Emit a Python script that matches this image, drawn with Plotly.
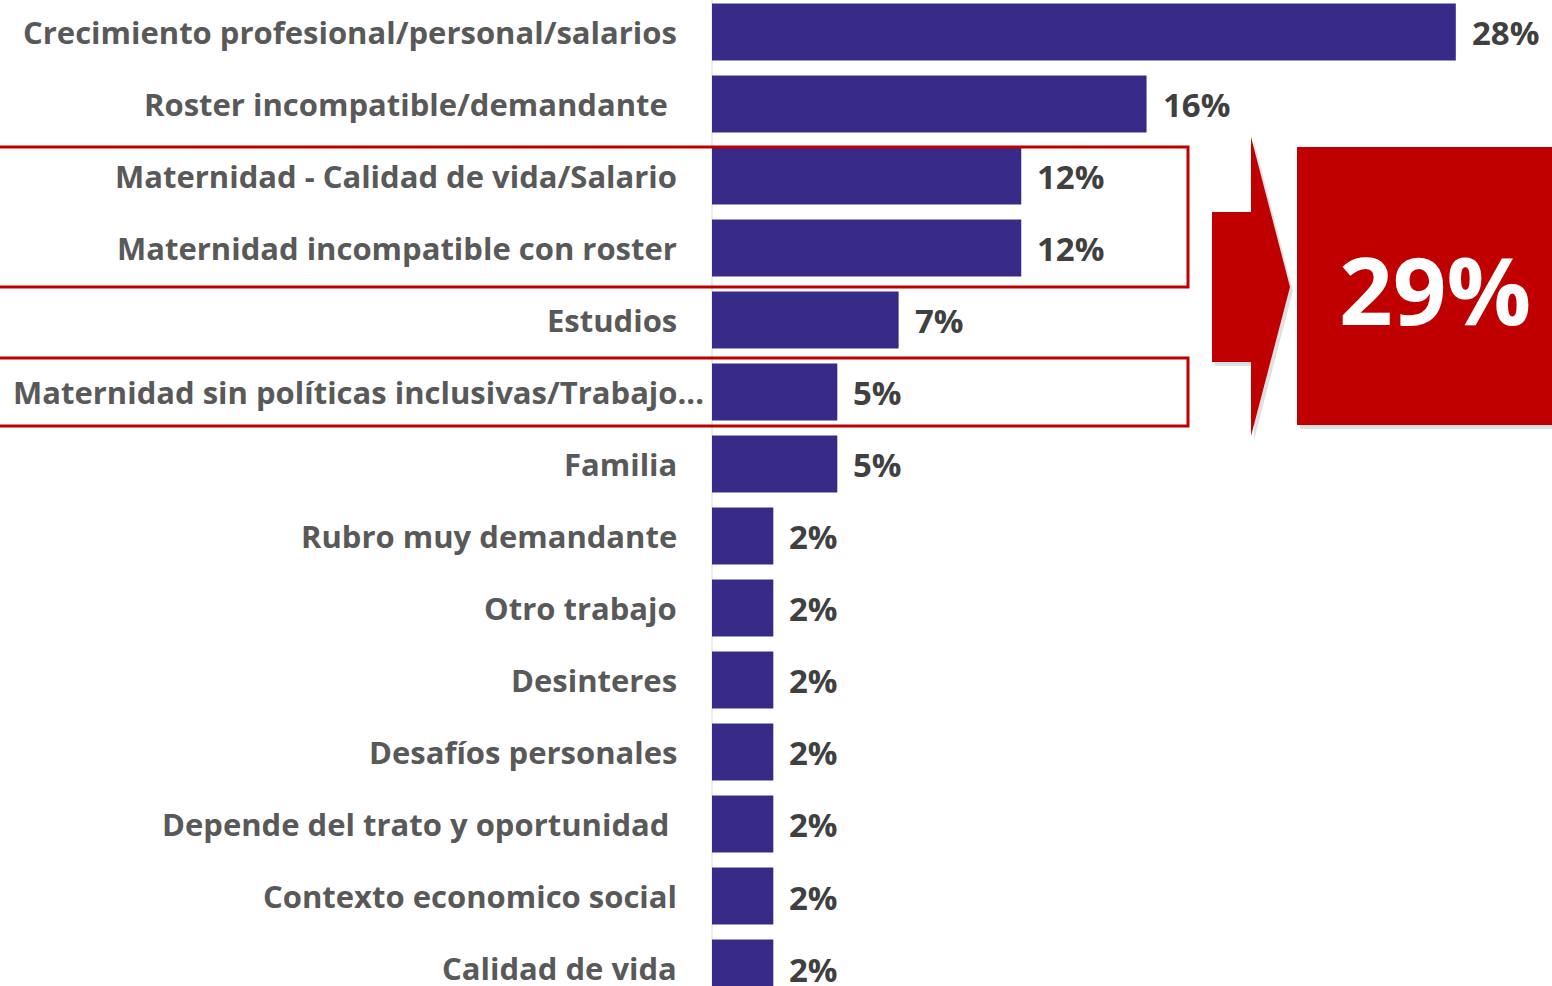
import plotly.graph_objects as go

categories = [
    "Crecimiento profesional/personal/salarios",
    "Roster incompatible/demandante",
    "Maternidad - Calidad de vida/Salario",
    "Maternidad incompatible con roster",
    "Estudios",
    "Maternidad sin políticas inclusivas/Trabajo...",
    "Familia",
    "Rubro muy demandante",
    "Otro trabajo",
    "Desinteres",
    "Desafíos personales",
    "Depende del trato y oportunidad",
    "Contexto economico social",
    "Calidad de vida",
]
values = [27.9, 16.3, 11.6, 11.6, 7.0, 4.7, 4.7, 2.3, 2.3, 2.3, 2.3, 2.3, 2.3, 2.3]
value_labels = ["28%", "16%", "12%", "12%", "7%", "5%", "5%", "2%", "2%", "2%", "2%", "2%", "2%", "2%"]
highlight_total = "29%"

W, H = 1552, 986
L = 712
PW = W - L
BAR = "#372A88"
RED = "#C00000"
TXT = "#595959"
FONT = "Open Sans"

def px(x):
    return (x - L) / PW

def py(y):
    return 1 - y / H

fig = go.Figure(go.Bar(
    x=values, y=list(range(len(categories))), orientation="h",
    marker=dict(color=BAR, line=dict(width=0)),
    width=0.79, showlegend=False, hoverinfo="skip",
))

ann = []
for i, (v, t) in enumerate(zip(values, value_labels)):
    ann.append(dict(x=v, y=i, xref="x", yref="y", text=t, showarrow=False,
                    xanchor="left", yanchor="middle", xshift=14, yshift=-1,
                    font=dict(family=FONT, size=33, color="#404040", weight="bold")))
label_shift = {1: -9, 5: 27, 11: -8}
for i, c in enumerate(categories):
    ann.append(dict(x=0, y=i, xref="paper", yref="y", text=c, showarrow=False,
                    xanchor="right", yanchor="middle", xshift=-33 + label_shift.get(i, 0),
                    font=dict(family=FONT, size=31, color=TXT, weight="bold")))

shapes = []
for (y0, y1) in [(147, 287), (358, 426)]:
    shapes.append(dict(type="rect", xref="paper", yref="paper",
                       x0=px(-4), x1=px(1188), y0=py(y1), y1=py(y0),
                       line=dict(color=RED, width=3), fillcolor="rgba(0,0,0,0)", layer="above"))

def arrow_path(dx=0, dy=0):
    pts = [(1212, 212), (1251, 212), (1251, 137), (1290, 287), (1251, 436),
           (1251, 362), (1212, 362)]
    return "M " + " L ".join(f"{px(x+dx)},{py(y+dy)}" for x, y in pts) + " Z"

shapes.append(dict(type="path", xref="paper", yref="paper", path=arrow_path(3, 4),
                   fillcolor="rgba(0,0,0,0.12)", line=dict(width=0), layer="above"))
shapes.append(dict(type="path", xref="paper", yref="paper", path=arrow_path(),
                   fillcolor=RED, line=dict(width=0), layer="above"))
shapes.append(dict(type="rect", xref="paper", yref="paper",
                   x0=px(1300), x1=px(1560), y0=py(429), y1=py(151),
                   fillcolor="rgba(0,0,0,0.12)", line=dict(width=0), layer="above"))
shapes.append(dict(type="rect", xref="paper", yref="paper",
                   x0=px(1297), x1=px(1560), y0=py(425), y1=py(147),
                   fillcolor=RED, line=dict(width=0), layer="above"))
ann.append(dict(x=px(1435), y=py(289), xref="paper", yref="paper", text=highlight_total,
                showarrow=False, xanchor="center", yanchor="middle",
                font=dict(family=FONT, size=94, color="white", weight="bold")))
shapes.append(dict(type="line", xref="paper", yref="paper", x0=0, x1=0, y0=0, y1=1,
                   line=dict(color="#D9D9D9", width=1), layer="below"))

fig.update_layout(
    width=W, height=H, margin=dict(l=L, r=0, t=0, b=0),
    paper_bgcolor="white", plot_bgcolor="white",
    xaxis=dict(range=[0, PW / 26.66], visible=False, fixedrange=True),
    yaxis=dict(range=[13.25, -0.444], showticklabels=False, showgrid=False,
               zeroline=False, showline=False, ticks="", fixedrange=True),
    bargap=0.21,
    shapes=shapes,
    annotations=ann,
)

fig.write_html("out.html", config={"displayModeBar": False},
               post_script="document.body.style.margin='0';document.body.style.overflow='hidden';")
